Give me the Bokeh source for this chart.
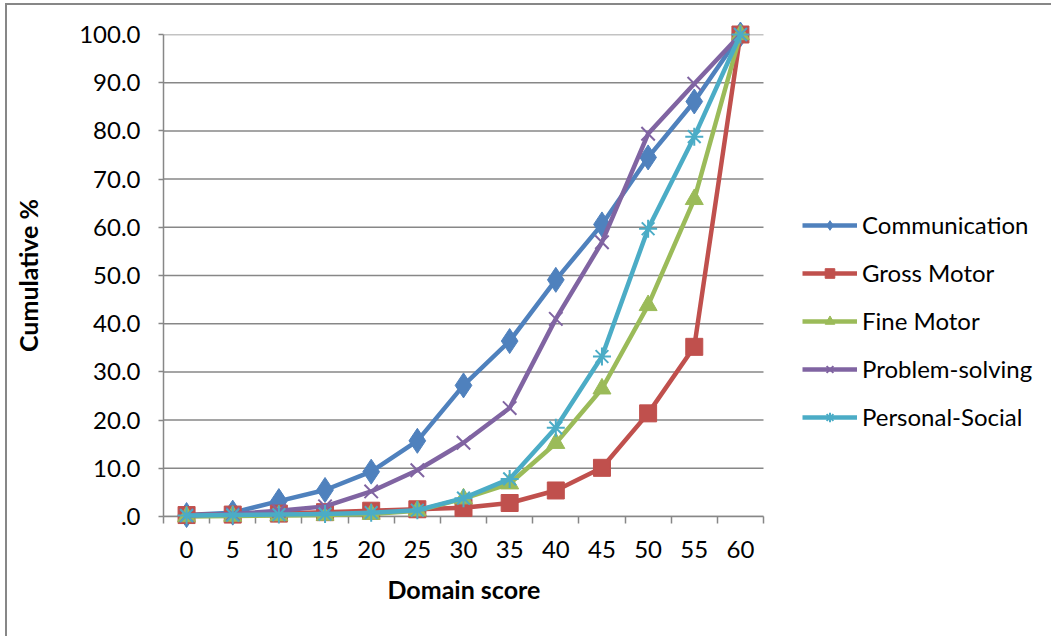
from bokeh.plotting import figure
from bokeh.models import Range1d, FixedTicker, Legend, LegendItem, Title
from bokeh.embed import file_html
from bokeh.resources import INLINE

# Domain score categories (x) and cumulative percentages per domain
scores = [0, 5, 10, 15, 20, 25, 30, 35, 40, 45, 50, 55, 60]
communication = [0.3, 0.8, 3.2, 5.5, 9.3, 15.7, 27.2, 36.4, 49.1, 60.6, 74.5, 86.1, 100.0]
gross_motor = [0.3, 0.4, 0.6, 0.9, 1.2, 1.5, 1.8, 2.8, 5.4, 10.1, 21.4, 35.2, 100.0]
fine_motor = [0.0, 0.1, 0.2, 0.3, 0.5, 1.2, 3.7, 6.8, 15.2, 26.5, 43.8, 65.8, 100.0]
problem_solving = [0.2, 0.5, 1.2, 2.1, 5.2, 9.6, 15.3, 22.5, 41.0, 56.9, 79.4, 89.8, 100.0]
personal_social = [0.2, 0.3, 0.4, 0.5, 0.8, 1.3, 3.8, 7.8, 18.4, 33.2, 59.7, 78.8, 100.0]

y_ticks = [0, 10, 20, 30, 40, 50, 60, 70, 80, 90, 100]
y_tick_labels = [".0", "10.0", "20.0", "30.0", "40.0", "50.0", "60.0",
                 "70.0", "80.0", "90.0", "100.0"]

series = [
    ("Communication", communication, "#4F81BD", "diamond", 25),
    ("Gross Motor", gross_motor, "#C0504D", "square", 17),
    ("Fine Motor", fine_motor, "#9BBB59", "triangle", 18),
    ("Problem-solving", problem_solving, "#8064A2", "x", 19),
    ("Personal-Social", personal_social, "#4BACC6", "asterisk", 18),
]

FONT = "Lato"
GRAY = "#878787"
TICK_FS = "24px"
TITLE_FS = "25px"

# each score is a 5-wide category band; the plot frame also holds the legend on the right
step = 5
x_lo = scores[0] - step / 2
x_hi = scores[-1] + step / 2
AREA_W = 600                    # pixel width of the category area
FRAME_W = 880                   # frame width incl. legend space
x_end = x_lo + (x_hi - x_lo) * FRAME_W / AREA_W

p = figure(width=1046, height=633, output_backend="svg", toolbar_location=None,
           x_range=Range1d(x_lo, x_end), y_range=Range1d(0, 100),
           min_border_left=156, min_border_right=1046 - 156 - FRAME_W,
           min_border_top=29, min_border_bottom=122)
# chart-area border on the left and top edges
p.styles = {"margin-left": "5px", "margin-top": "3px",
            "border-left": f"2px solid {GRAY}", "border-top": f"2px solid {GRAY}"}
p.outline_line_color = None
p.background_fill_color = "white"
p.border_fill_color = "white"

# horizontal gridlines, limited to the category area
p.xgrid.grid_line_color = None
p.ygrid.grid_line_color = None
p.segment(x0=[x_lo] * len(y_ticks), x1=[x_hi] * len(y_ticks), y0=y_ticks, y1=y_ticks,
          line_color=GRAY, line_width=1.5, level="underlay")

# x axis: category ticks sit between the score labels
xa = p.xaxis[0]
xa.bounds = (x_lo, x_hi)
xa.ticker = FixedTicker(ticks=scores, minor_ticks=[s - step / 2 for s in scores] + [x_hi])
xa.major_tick_line_color = None
xa.major_tick_out = 0
xa.major_tick_in = 0
xa.minor_tick_line_color = GRAY
xa.minor_tick_line_width = 1.5
xa.minor_tick_out = 7
xa.minor_tick_in = 0
xa.axis_line_color = GRAY
xa.axis_line_width = 1.5
xa.major_label_text_font = FONT
xa.major_label_text_font_size = TICK_FS
xa.major_label_text_color = "black"
xa.major_label_standoff = 17

# x-axis title, centred under the category area rather than the whole frame
x_title = Title(text="Domain score", align="left", offset=224, standoff=22,
                text_font=FONT, text_font_style="bold", text_font_size=TITLE_FS,
                text_color="black")
p.add_layout(x_title, "below")

ya = p.yaxis[0]
ya.ticker = FixedTicker(ticks=y_ticks)
ya.major_label_overrides = {t: lab for t, lab in zip(y_ticks, y_tick_labels)}
ya.minor_tick_line_color = None
ya.major_tick_line_color = GRAY
ya.major_tick_line_width = 1.5
ya.major_tick_out = 5
ya.major_tick_in = 0
ya.axis_line_color = GRAY
ya.axis_line_width = 1.5
ya.major_label_text_font = FONT
ya.major_label_text_font_size = TICK_FS
ya.major_label_text_color = "black"
ya.major_label_standoff = 18
ya.axis_label = "Cumulative %"
ya.axis_label_text_font = FONT
ya.axis_label_text_font_style = "bold"
ya.axis_label_text_font_size = TITLE_FS
ya.axis_label_text_color = "black"
ya.axis_label_standoff = 33

# series are drawn on the overlay level so end markers at 0 and 100 are not clipped
items = []
for name, vals, color, marker, size in series:
    ln = p.line(scores, vals, line_color=color, line_width=4.5, line_join="round",
                level="overlay")
    if marker in ("x", "asterisk"):
        mk = p.scatter(scores, vals, marker=marker, size=size, line_color=color,
                       line_width=2, fill_color=None, level="overlay")
    else:
        mk = p.scatter(scores, vals, marker=marker, size=size, line_color=color,
                       fill_color=color, level="overlay")
    items.append(LegendItem(label=name, renderers=[ln, mk]))

legend = Legend(items=items, location=(639, 85), orientation="vertical",
                glyph_width=55, glyph_height=24, label_height=24,
                label_standoff=5, spacing=19, padding=0, margin=0,
                label_text_font=FONT, label_text_font_size=TICK_FS,
                label_text_color="black",
                background_fill_alpha=0, border_line_color=None)
p.add_layout(legend, "center")

open("out.html", "w").write(file_html(p, INLINE))
